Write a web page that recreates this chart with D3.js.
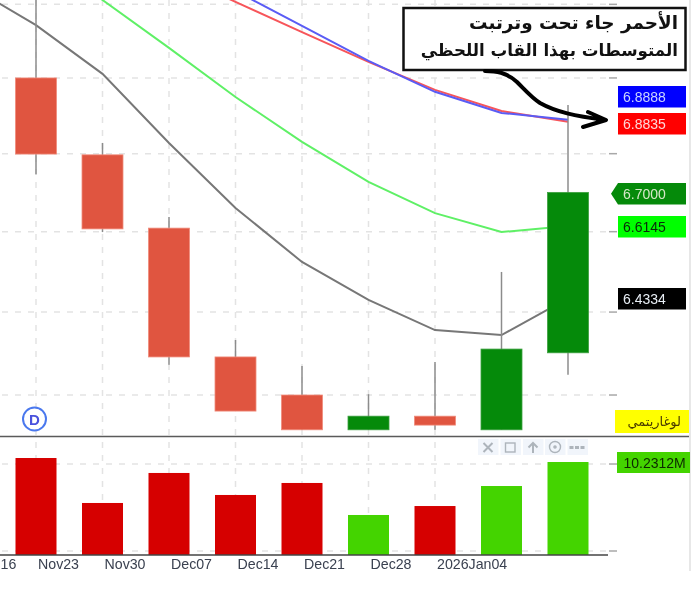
<!DOCTYPE html>
<html>
<head>
<meta charset="utf-8">
<script src="https://cdn.jsdelivr.net/npm/d3@7"></script>
<style>
  html, body { margin: 0; background: #fff; }
  svg { display: block; filter: blur(0.4px); }
  text { font-family: "Liberation Sans", sans-serif; }
</style>
</head>
<body>
<svg id="chart" width="692" height="592"></svg>
<script>
const weeks = ['Nov16', 'Nov23', 'Nov30', 'Dec07', 'Dec14', 'Dec21', 'Dec28', '2026Jan04', 'Jan11', 'Jan18']
const labelledWeeks = weeks.slice(0, 8)

// candles, first one is Nov23
const candleWeeks = weeks.slice(1)
const opens  = [7.000, 6.797, 6.609, 6.291, 6.200, 6.118, 6.150, 6.118, 6.301]
const closes = [6.799, 6.607, 6.291, 6.162, 6.118, 6.150, 6.129, 6.310, 6.700]
const highs  = [7.240, 6.828, 6.637, 6.332, 6.269, 6.202, 6.279, 6.499, 6.928]
const lows   = [6.747, 6.599, 6.272, 6.162, 6.118, 6.118, 6.118, 6.118, 6.248]

// moving averages, aligned with weeks
const maGray  = [7.251, 7.143, 7.011, 6.828, 6.660, 6.524, 6.430, 6.356, 6.344, 6.4334]
const maGreen = [null, 7.346, 7.212, 7.081, 6.949, 6.831, 6.727, 6.647, 6.599, 6.6145]
const maRed   = [null, null, null, 7.290, 7.207, 7.124, 7.043, 6.968, 6.912, 6.8835]
const maBlue  = [null, null, null, 7.324, 7.237, 7.141, 7.046, 6.963, 6.907, 6.8888]

const volumes = [10.69, 5.52, 8.97, 6.44, 7.82, 4.14, 5.17, 7.47, 10.23]
const volumeUp = [false, false, false, false, false, true, false, true, true]

const priceTicks = [7.2, 7.0, 6.8, 6.6, 6.4, 6.2]
const volumeTicks = [10, 0]

const priceLabels = ['6.8888', '6.8835', '6.7000', '6.6145', '6.4334']
const noteLines = ['الأحمر جاء تحت وترتبت', 'المتوسطات بهذا القاب اللحظي']

const svg = d3.select('#chart')

const x = d3.scalePoint().domain(weeks).range([-30.5, 568])
const y = d3.scaleLog().domain([7.212, 6.1035]).range([0, 436])
const yVol = d3.scaleLinear().domain([13.22, -0.46]).range([436, 555])

const gridColor = '#e3e3e3'
const tickColor = '#a8a8a8'

// grid
const grid = svg.append('g')
  .attr('stroke', gridColor)
  .attr('stroke-width', 1.5)
  .attr('stroke-dasharray', '6 7')

grid.selectAll('.v')
  .data(labelledWeeks)
  .join('line')
  .attr('x1', d => x(d)).attr('x2', d => x(d))
  .attr('y1', 0).attr('y2', 555)

grid.selectAll('.hp')
  .data(priceTicks)
  .join('line')
  .attr('x1', 2).attr('x2', 610)
  .attr('y1', d => y(d)).attr('y2', d => y(d))

grid.selectAll('.hv')
  .data(volumeTicks)
  .join('line')
  .attr('x1', 2).attr('x2', 610)
  .attr('y1', d => yVol(d)).attr('y2', d => yVol(d))

// small ticks on the right side
svg.append('g')
  .attr('stroke', tickColor)
  .attr('stroke-width', 1.5)
  .selectAll('line')
  .data(priceTicks.map(y).concat(volumeTicks.map(yVol)))
  .join('line')
  .attr('x1', 609).attr('x2', 617)
  .attr('y1', d => d).attr('y2', d => d)

// moving averages sit under the candles
const line = d3.line()
  .defined(d => d !== null)
  .x((d, i) => x(weeks[i]))
  .y(d => y(d))

svg.append('g')
  .attr('fill', 'none')
  .attr('stroke-width', 2)
  .selectAll('path')
  .data([
    { values: maGray, color: '#777777' },
    { values: maGreen, color: '#5ff066' },
    { values: maRed, color: '#f7555a' },
    { values: maBlue, color: '#5a5cf5' }
  ])
  .join('path')
  .attr('stroke', d => d.color)
  .attr('d', d => line(d.values))

// candles
const bodyWidth = 41
const candles = svg.append('g')
  .selectAll('g')
  .data(candleWeeks)
  .join('g')

candles.append('line')
  .attr('x1', d => x(d)).attr('x2', d => x(d))
  .attr('y1', (d, i) => y(highs[i]))
  .attr('y2', (d, i) => y(lows[i]))
  .attr('stroke', '#8c8c8c')
  .attr('stroke-width', 1.5)

candles.append('rect')
  .attr('x', d => x(d) - bodyWidth / 2)
  .attr('width', bodyWidth)
  .attr('y', (d, i) => y(Math.max(opens[i], closes[i])))
  .attr('height', (d, i) => y(Math.min(opens[i], closes[i])) - y(Math.max(opens[i], closes[i])))
  .attr('fill', (d, i) => closes[i] > opens[i] ? '#058a0a' : '#e05540')
  .attr('stroke', (d, i) => closes[i] > opens[i] ? '#3da040' : '#f08c7c')
  .attr('stroke-width', 0.8)

// volume bars
svg.append('g')
  .selectAll('rect')
  .data(volumes)
  .join('rect')
  .attr('x', (d, i) => x(candleWeeks[i]) - bodyWidth / 2)
  .attr('width', bodyWidth)
  .attr('y', d => yVol(d))
  .attr('height', d => 555 - yVol(d))
  .attr('fill', (d, i) => volumeUp[i] ? '#44d400' : '#d60000')

// pane separators
svg.append('line').attr('x1', 0).attr('x2', 689).attr('y1', 436.5).attr('y2', 436.5)
  .attr('stroke', '#5a5a5a').attr('stroke-width', 1.6)
svg.append('line').attr('x1', 0).attr('x2', 608).attr('y1', 555).attr('y2', 555)
  .attr('stroke', '#444').attr('stroke-width', 1.4)
svg.append('line').attr('x1', 690).attr('x2', 690).attr('y1', 0).attr('y2', 571)
  .attr('stroke', '#d8d8d8').attr('stroke-width', 1.2)

// date labels, only the end of the first one is on the window
svg.append('g')
  .selectAll('text')
  .data(labelledWeeks)
  .join('text')
  .attr('x', d => d === 'Nov16' ? 0.5 : x(d) + 2)
  .attr('y', 569)
  .attr('font-size', 14.2)
  .attr('fill', '#3a4150')
  .text(d => d === 'Nov16' ? '16' : d)

// price tags
const tagColors = [
  { bg: '#0000ff', fg: '#c9d4ff', top: 86 },
  { bg: '#ff0000', fg: '#ffd6d6', top: 113 },
  { bg: '#058a0a', fg: '#d6e8c8', top: 183 },
  { bg: '#00ff00', fg: '#0a2a0a', top: 216 },
  { bg: '#000000', fg: '#e8eef5', top: 288 }
]
const tagHeight = 21.5
const tags = svg.append('g')
  .selectAll('g')
  .data(priceLabels)
  .join('g')

tags.append('path')
  .attr('fill', (d, i) => tagColors[i].bg)
  .attr('d', (d, i) => {
    const t = tagColors[i].top
    const p = d3.path()
    if (d === '6.7000') {
      p.moveTo(618, t); p.lineTo(686, t); p.lineTo(686, t + tagHeight); p.lineTo(618, t + tagHeight)
      p.lineTo(611, t + tagHeight / 2)
    } else {
      p.moveTo(618, t); p.lineTo(686, t); p.lineTo(686, t + tagHeight); p.lineTo(618, t + tagHeight)
    }
    p.closePath()
    return p.toString()
  })

tags.append('text')
  .attr('x', 623)
  .attr('y', (d, i) => tagColors[i].top + 15.5)
  .attr('font-size', 14)
  .attr('fill', (d, i) => tagColors[i].fg)
  .text(d => d)

// log scale tag
svg.append('rect').attr('x', 615).attr('y', 410).attr('width', 74).attr('height', 23).attr('fill', '#ffff00')
svg.append('text')
  .attr('x', 681).attr('y', 426)
  .attr('text-anchor', 'end')
  .attr('font-size', 13)
  .attr('fill', '#4a3a00')
  .style('font-family', '"DejaVu Sans", sans-serif')
  .text('لوغاريتمي')

// volume tag
svg.append('rect').attr('x', 617).attr('y', 452).attr('width', 73).attr('height', 21).attr('fill', '#44d400')
svg.append('text')
  .attr('x', 623.5).attr('y', 467.5)
  .attr('font-size', 14)
  .attr('fill', '#0c2a00')
  .text('10.2312M')

// D badge
svg.append('circle').attr('cx', 34.5).attr('cy', 419).attr('r', 11.5)
  .attr('fill', '#fff').attr('stroke', '#4a78ee').attr('stroke-width', 2)
svg.append('text')
  .attr('x', 34.5).attr('y', 424.5)
  .attr('text-anchor', 'middle')
  .attr('font-size', 15)
  .attr('font-weight', 'bold')
  .attr('fill', '#4a52dd')
  .text('D')

// pane buttons
const buttons = svg.append('g')
const buttonX = [478, 500.5, 523, 545, 567.5]
buttons.selectAll('rect')
  .data(buttonX)
  .join('rect')
  .attr('x', d => d).attr('y', 439)
  .attr('width', 20.5).attr('height', 16)
  .attr('fill', '#f1f5fb')

const icons = buttons.append('g')
  .attr('fill', 'none')
  .attr('stroke', '#adb4bb')
  .attr('stroke-width', 2)
icons.append('path').attr('d', 'M483.5 443L492.5 452M492.5 443L483.5 452')
icons.append('rect').attr('x', 505.5).attr('y', 443).attr('width', 9.5).attr('height', 9).attr('stroke-width', 1.4)
icons.append('path').attr('d', 'M533 453V443M528.5 447.5L533 443L537.5 447.5')
icons.append('circle').attr('cx', 555).attr('cy', 447).attr('r', 5.5).attr('stroke-width', 1.4)
icons.append('circle').attr('cx', 555).attr('cy', 447).attr('r', 0.8)
icons.append('path').attr('d', 'M569.5 447.5H584.5').attr('stroke-dasharray', '4 1.5').attr('stroke-width', 3)

// note box
svg.append('rect')
  .attr('x', 403.5).attr('y', 8).attr('width', 282).attr('height', 62)
  .attr('fill', '#fff').attr('stroke', '#111').attr('stroke-width', 2.5)

svg.append('g')
  .selectAll('text')
  .data(noteLines)
  .join('text')
  .attr('x', 678)
  .attr('y', (d, i) => 29 + i * 27)
  .attr('direction', 'rtl')
  .attr('text-anchor', 'start')
  .attr('font-size', (d, i) => i === 0 ? 18.4 : 16.7)
  .attr('font-weight', 'bold')
  .attr('fill', '#111')
  .style('font-family', '"DejaVu Sans", sans-serif')
  .text(d => d)

// hand drawn arrow
svg.append('path')
  .attr('d', 'M485 71C496 71 506 72 517 82C526 91 532 98 540 103C556 112 575 116 605 120M588 112L606 120L583 127')
  .attr('fill', 'none')
  .attr('stroke', '#000')
  .attr('stroke-width', 4)
  .attr('stroke-linejoin', 'round')
  .attr('stroke-linecap', 'round')
</script>
</body>
</html>
